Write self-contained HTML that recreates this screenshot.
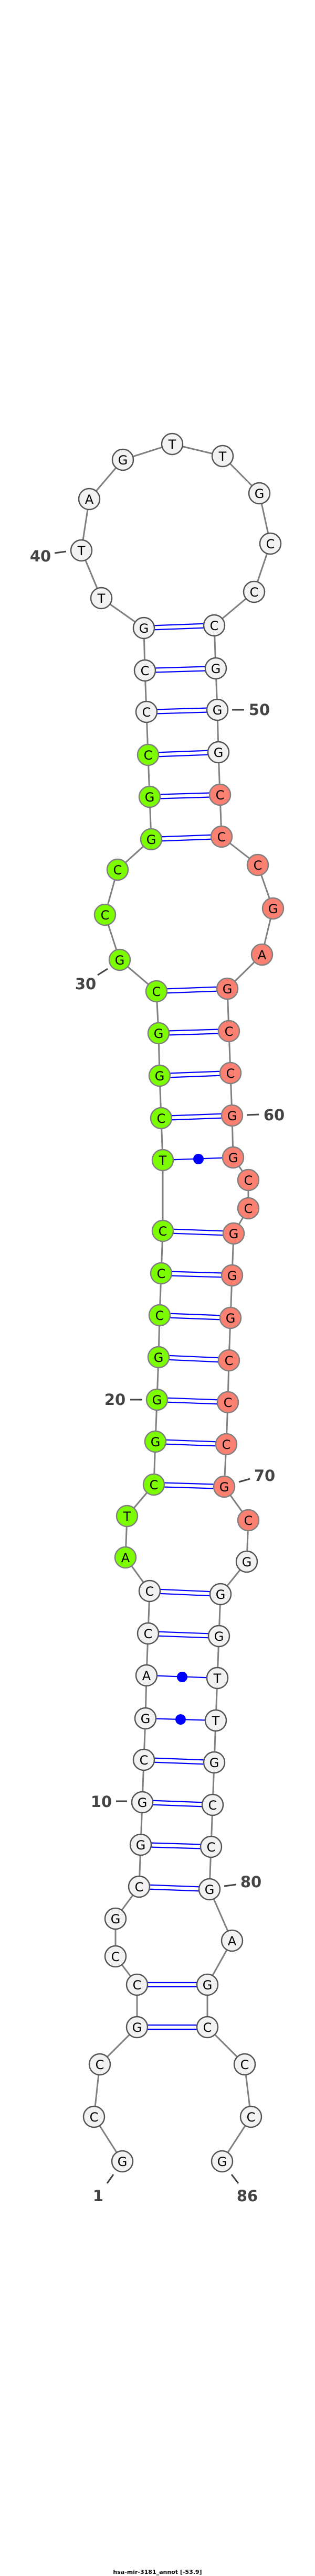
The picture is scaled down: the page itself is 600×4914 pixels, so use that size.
<!DOCTYPE html>
<html><head><meta charset="utf-8"><style>
html,body{margin:0;padding:0;background:#fff;}
svg{display:block;}
.n text{font-family:"DejaVu Sans","Liberation Sans",sans-serif;font-size:24px;text-anchor:middle;dominant-baseline:central;fill:#000;}
.lb{font-family:"DejaVu Sans","Liberation Sans",sans-serif;font-size:29px;font-weight:bold;fill:#444;text-anchor:middle;dominant-baseline:central;}
.w{fill:#f2f2f2;stroke:#555;stroke-width:2.5;}
.g{fill:#7cfc00;stroke:#808080;stroke-width:2.5;}
.r{fill:#fa8072;stroke:#808080;stroke-width:2.5;}
.bp line{stroke:#0000ff;stroke-width:2.2;}
.tk{stroke:#444;stroke-width:3;}
</style></head><body>
<svg width="600" height="4914" viewBox="0 0 600 4914" xmlns="http://www.w3.org/2000/svg">
<polyline fill="none" stroke="#808080" stroke-width="3" points="233,4123 179,4038 190,3938 261,3867 261,3786 220,3732 220,3660 265,3599 268,3519 271,3438 274,3357 277,3278 279,3196 282,3116 285,3035 239,2971 242,2892 293,2832 296,2750 299,2670 302,2589 304,2509 307,2429 310,2348 310,2213 307,2133 304,2052 302,1971 298,1891 228,1831 200,1745 224,1659 288,1601 285,1520 282,1440 279,1358 276,1279 274,1198 193,1141 155,1050 170,952 234,877 328,847 424,870 494,941 515,1037 484,1129 408,1193 411,1275 414,1354 416,1435 419,1516 422,1596 491,1650 520,1733 499,1821 433,1886 436,1967 439,2047 442,2128 444,2208 473,2251 473,2305 445,2353 442,2433 439,2514 436,2595 434,2675 431,2755 427,2836 473,2900 470,2979 420,3041 417,3121 414,3201 411,3282 408,3362 405,3443 402,3523 399,3604 442,3702 395,3786 395,3867 466,3938 478,4038 423,4123"/>
<g class="bp">
<line x1="261" y1="3863" x2="395" y2="3863"/><line x1="261" y1="3871" x2="395" y2="3871"/>
<line x1="261" y1="3782" x2="395" y2="3782"/><line x1="261" y1="3790" x2="395" y2="3790"/>
<line x1="265" y1="3595" x2="399" y2="3600"/><line x1="265" y1="3603" x2="399" y2="3608"/>
<line x1="268" y1="3515" x2="402" y2="3519"/><line x1="268" y1="3523" x2="402" y2="3527"/>
<line x1="271" y1="3434" x2="405" y2="3439"/><line x1="271" y1="3442" x2="405" y2="3447"/>
<line x1="274" y1="3353" x2="408" y2="3358"/><line x1="274" y1="3361" x2="408" y2="3366"/>
<line x1="277" y1="3278" x2="411" y2="3282"/>
<line x1="279" y1="3196" x2="414" y2="3201"/>
<line x1="282" y1="3112" x2="417" y2="3117"/><line x1="282" y1="3120" x2="417" y2="3125"/>
<line x1="285" y1="3031" x2="420" y2="3037"/><line x1="285" y1="3039" x2="420" y2="3045"/>
<line x1="293" y1="2828" x2="427" y2="2832"/><line x1="293" y1="2836" x2="427" y2="2840"/>
<line x1="296" y1="2746" x2="431" y2="2751"/><line x1="296" y1="2754" x2="431" y2="2759"/>
<line x1="299" y1="2666" x2="434" y2="2671"/><line x1="299" y1="2674" x2="434" y2="2679"/>
<line x1="302" y1="2585" x2="436" y2="2591"/><line x1="302" y1="2593" x2="436" y2="2599"/>
<line x1="304" y1="2505" x2="439" y2="2510"/><line x1="304" y1="2513" x2="439" y2="2518"/>
<line x1="307" y1="2425" x2="442" y2="2429"/><line x1="307" y1="2433" x2="442" y2="2437"/>
<line x1="310" y1="2344" x2="445" y2="2349"/><line x1="310" y1="2352" x2="445" y2="2357"/>
<line x1="310" y1="2213" x2="444" y2="2208"/>
<line x1="307" y1="2129" x2="442" y2="2124"/><line x1="307" y1="2137" x2="442" y2="2132"/>
<line x1="304" y1="2048" x2="439" y2="2043"/><line x1="304" y1="2056" x2="439" y2="2051"/>
<line x1="302" y1="1967" x2="436" y2="1963"/><line x1="302" y1="1975" x2="436" y2="1971"/>
<line x1="298" y1="1887" x2="433" y2="1882"/><line x1="298" y1="1895" x2="433" y2="1890"/>
<line x1="288" y1="1597" x2="422" y2="1592"/><line x1="288" y1="1605" x2="422" y2="1600"/>
<line x1="285" y1="1516" x2="419" y2="1512"/><line x1="285" y1="1524" x2="419" y2="1520"/>
<line x1="282" y1="1436" x2="416" y2="1431"/><line x1="282" y1="1444" x2="416" y2="1439"/>
<line x1="279" y1="1354" x2="414" y2="1350"/><line x1="279" y1="1362" x2="414" y2="1358"/>
<line x1="276" y1="1275" x2="411" y2="1271"/><line x1="276" y1="1283" x2="411" y2="1279"/>
<line x1="274" y1="1194" x2="408" y2="1189"/><line x1="274" y1="1202" x2="408" y2="1197"/>
</g>
<circle cx="344" cy="3280" r="10" fill="#0000ff"/>
<circle cx="347" cy="3199" r="10" fill="#0000ff"/>
<circle cx="378" cy="2211" r="10" fill="#0000ff"/>
<g class="n">
<circle class="w" cx="233" cy="4123" r="20"/><text x="233" y="4124">G</text>
<circle class="w" cx="179" cy="4038" r="20"/><text x="179" y="4039">C</text>
<circle class="w" cx="190" cy="3938" r="20"/><text x="190" y="3939">C</text>
<circle class="w" cx="261" cy="3867" r="20"/><text x="261" y="3868">G</text>
<circle class="w" cx="261" cy="3786" r="20"/><text x="261" y="3787">C</text>
<circle class="w" cx="220" cy="3732" r="20"/><text x="220" y="3733">C</text>
<circle class="w" cx="220" cy="3660" r="20"/><text x="220" y="3661">G</text>
<circle class="w" cx="265" cy="3599" r="20"/><text x="265" y="3600">C</text>
<circle class="w" cx="268" cy="3519" r="20"/><text x="268" y="3520">G</text>
<circle class="w" cx="271" cy="3438" r="20"/><text x="271" y="3439">G</text>
<circle class="w" cx="274" cy="3357" r="20"/><text x="274" y="3358">C</text>
<circle class="w" cx="277" cy="3278" r="20"/><text x="277" y="3279">G</text>
<circle class="w" cx="279" cy="3196" r="20"/><text x="279" y="3197">A</text>
<circle class="w" cx="282" cy="3116" r="20"/><text x="282" y="3117">C</text>
<circle class="w" cx="285" cy="3035" r="20"/><text x="285" y="3036">C</text>
<circle class="g" cx="239" cy="2971" r="20"/><text x="239" y="2972">A</text>
<circle class="g" cx="242" cy="2892" r="20"/><text x="242" y="2893">T</text>
<circle class="g" cx="293" cy="2832" r="20"/><text x="293" y="2833">C</text>
<circle class="g" cx="296" cy="2750" r="20"/><text x="296" y="2751">G</text>
<circle class="g" cx="299" cy="2670" r="20"/><text x="299" y="2671">G</text>
<circle class="g" cx="302" cy="2589" r="20"/><text x="302" y="2590">G</text>
<circle class="g" cx="304" cy="2509" r="20"/><text x="304" y="2510">C</text>
<circle class="g" cx="307" cy="2429" r="20"/><text x="307" y="2430">C</text>
<circle class="g" cx="310" cy="2348" r="20"/><text x="310" y="2349">C</text>
<circle class="g" cx="310" cy="2213" r="20"/><text x="310" y="2214">T</text>
<circle class="g" cx="307" cy="2133" r="20"/><text x="307" y="2134">C</text>
<circle class="g" cx="304" cy="2052" r="20"/><text x="304" y="2053">G</text>
<circle class="g" cx="302" cy="1971" r="20"/><text x="302" y="1972">G</text>
<circle class="g" cx="298" cy="1891" r="20"/><text x="298" y="1892">C</text>
<circle class="g" cx="228" cy="1831" r="20"/><text x="228" y="1832">G</text>
<circle class="g" cx="200" cy="1745" r="20"/><text x="200" y="1746">C</text>
<circle class="g" cx="224" cy="1659" r="20"/><text x="224" y="1660">C</text>
<circle class="g" cx="288" cy="1601" r="20"/><text x="288" y="1602">G</text>
<circle class="g" cx="285" cy="1520" r="20"/><text x="285" y="1521">G</text>
<circle class="g" cx="282" cy="1440" r="20"/><text x="282" y="1441">C</text>
<circle class="w" cx="279" cy="1358" r="20"/><text x="279" y="1359">C</text>
<circle class="w" cx="276" cy="1279" r="20"/><text x="276" y="1280">C</text>
<circle class="w" cx="274" cy="1198" r="20"/><text x="274" y="1199">G</text>
<circle class="w" cx="193" cy="1141" r="20"/><text x="193" y="1142">T</text>
<circle class="w" cx="155" cy="1050" r="20"/><text x="155" y="1051">T</text>
<circle class="w" cx="170" cy="952" r="20"/><text x="170" y="953">A</text>
<circle class="w" cx="234" cy="877" r="20"/><text x="234" y="878">G</text>
<circle class="w" cx="328" cy="847" r="20"/><text x="328" y="848">T</text>
<circle class="w" cx="424" cy="870" r="20"/><text x="424" y="871">T</text>
<circle class="w" cx="494" cy="941" r="20"/><text x="494" y="942">G</text>
<circle class="w" cx="515" cy="1037" r="20"/><text x="515" y="1038">C</text>
<circle class="w" cx="484" cy="1129" r="20"/><text x="484" y="1130">C</text>
<circle class="w" cx="408" cy="1193" r="20"/><text x="408" y="1194">C</text>
<circle class="w" cx="411" cy="1275" r="20"/><text x="411" y="1276">G</text>
<circle class="w" cx="414" cy="1354" r="20"/><text x="414" y="1355">G</text>
<circle class="w" cx="416" cy="1435" r="20"/><text x="416" y="1436">G</text>
<circle class="r" cx="419" cy="1516" r="20"/><text x="419" y="1517">C</text>
<circle class="r" cx="422" cy="1596" r="20"/><text x="422" y="1597">C</text>
<circle class="r" cx="491" cy="1650" r="20"/><text x="491" y="1651">C</text>
<circle class="r" cx="520" cy="1733" r="20"/><text x="520" y="1734">G</text>
<circle class="r" cx="499" cy="1821" r="20"/><text x="499" y="1822">A</text>
<circle class="r" cx="433" cy="1886" r="20"/><text x="433" y="1887">G</text>
<circle class="r" cx="436" cy="1967" r="20"/><text x="436" y="1968">C</text>
<circle class="r" cx="439" cy="2047" r="20"/><text x="439" y="2048">C</text>
<circle class="r" cx="442" cy="2128" r="20"/><text x="442" y="2129">G</text>
<circle class="r" cx="444" cy="2208" r="20"/><text x="444" y="2209">G</text>
<circle class="r" cx="473" cy="2251" r="20"/><text x="473" y="2252">C</text>
<circle class="r" cx="473" cy="2305" r="20"/><text x="473" y="2306">C</text>
<circle class="r" cx="445" cy="2353" r="20"/><text x="445" y="2354">G</text>
<circle class="r" cx="442" cy="2433" r="20"/><text x="442" y="2434">G</text>
<circle class="r" cx="439" cy="2514" r="20"/><text x="439" y="2515">G</text>
<circle class="r" cx="436" cy="2595" r="20"/><text x="436" y="2596">C</text>
<circle class="r" cx="434" cy="2675" r="20"/><text x="434" y="2676">C</text>
<circle class="r" cx="431" cy="2755" r="20"/><text x="431" y="2756">C</text>
<circle class="r" cx="427" cy="2836" r="20"/><text x="427" y="2837">G</text>
<circle class="r" cx="473" cy="2900" r="20"/><text x="473" y="2901">C</text>
<circle class="w" cx="470" cy="2979" r="20"/><text x="470" y="2980">G</text>
<circle class="w" cx="420" cy="3041" r="20"/><text x="420" y="3042">G</text>
<circle class="w" cx="417" cy="3121" r="20"/><text x="417" y="3122">G</text>
<circle class="w" cx="414" cy="3201" r="20"/><text x="414" y="3202">T</text>
<circle class="w" cx="411" cy="3282" r="20"/><text x="411" y="3283">T</text>
<circle class="w" cx="408" cy="3362" r="20"/><text x="408" y="3363">G</text>
<circle class="w" cx="405" cy="3443" r="20"/><text x="405" y="3444">C</text>
<circle class="w" cx="402" cy="3523" r="20"/><text x="402" y="3524">C</text>
<circle class="w" cx="399" cy="3604" r="20"/><text x="399" y="3605">G</text>
<circle class="w" cx="442" cy="3702" r="20"/><text x="442" y="3703">A</text>
<circle class="w" cx="395" cy="3786" r="20"/><text x="395" y="3787">G</text>
<circle class="w" cx="395" cy="3867" r="20"/><text x="395" y="3868">C</text>
<circle class="w" cx="466" cy="3938" r="20"/><text x="466" y="3939">C</text>
<circle class="w" cx="478" cy="4038" r="20"/><text x="478" y="4039">C</text>
<circle class="w" cx="423" cy="4123" r="20"/><text x="423" y="4124">G</text>
</g>
<line class="tk" x1="104" y1="1055" x2="126" y2="1052"/><text class="lb" x="77" y="1061">40</text>
<line class="tk" x1="442" y1="1354" x2="465" y2="1354"/><text class="lb" x="494" y="1354">50</text>
<line class="tk" x1="186" y1="1860" x2="205" y2="1848"/><text class="lb" x="163" y="1877">30</text>
<line class="tk" x1="470" y1="2127" x2="493" y2="2126"/><text class="lb" x="522" y="2127">60</text>
<line class="tk" x1="248" y1="2670" x2="271" y2="2670"/><text class="lb" x="219" y="2670">20</text>
<line class="tk" x1="455" y1="2827" x2="476" y2="2821"/><text class="lb" x="504" y="2815">70</text>
<line class="tk" x1="221" y1="3436" x2="242" y2="3436"/><text class="lb" x="193" y="3437">10</text>
<line class="tk" x1="427" y1="3598" x2="450" y2="3595"/><text class="lb" x="478" y="3590">80</text>
<line class="tk" x1="216" y1="4148" x2="204" y2="4165"/><text class="lb" x="187" y="4189">1</text>
<line class="tk" x1="441" y1="4148" x2="454" y2="4165"/><text class="lb" x="471" y="4189">86</text>
<text x="300" y="4910" font-family="'DejaVu Sans','Liberation Sans',sans-serif" font-size="11" font-weight="bold" text-anchor="middle" fill="#000">hsa-mir-3181_annot [-53.9]</text>
</svg>
</body></html>
